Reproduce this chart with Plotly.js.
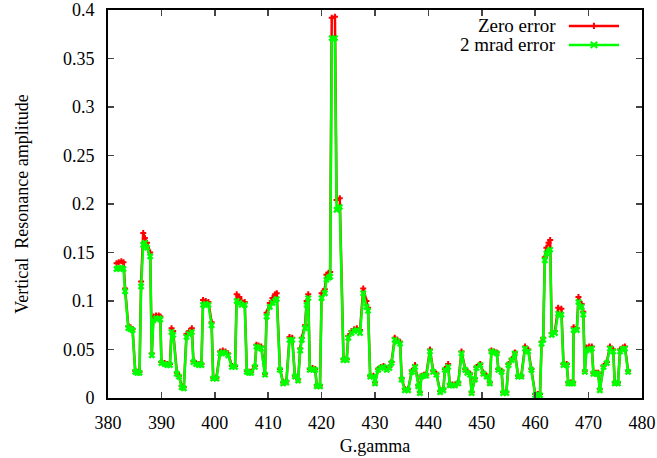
<!DOCTYPE html>
<html><head><meta charset="utf-8">
<script src="https://cdn.plot.ly/plotly-3.0.1.min.js"></script>
<style>html,body{margin:0;padding:0;background:#fff}#chart{width:657px;height:458px}</style>
</head><body><div id="chart"></div>
<script>
const ggamma = [381.6,382.0,382.5,382.9,383.2,383.8,384.2,384.6,385.1,385.5,
385.9,386.2,386.6,386.9,387.3,387.9,388.2,388.5,389.0,389.5,
389.8,390.0,390.6,391.1,391.6,391.9,392.2,392.9,393.3,393.8,
394.2,394.7,395.2,395.7,396.0,396.5,397.0,397.5,397.8,398.3,
398.8,399.4,399.7,400.3,401.0,401.5,402.0,402.5,403.2,403.8,
404.1,404.6,405.0,405.6,406.0,406.4,406.8,407.5,407.8,408.2,
408.7,409.4,409.7,410.3,410.8,411.3,411.6,412.2,412.8,413.4,
414.0,414.5,415.0,415.6,416.0,416.3,416.9,417.2,417.5,417.8,
418.3,418.8,419.1,419.7,420.0,420.6,420.9,421.3,421.6,421.9,
422.5,422.8,423.4,424.1,424.7,425.0,425.6,426.1,426.6,427.2,
427.8,428.4,428.7,429.1,429.7,430.0,430.6,431.1,431.6,432.2,
432.7,433.1,433.7,434.2,434.7,435.0,435.6,436.2,436.9,437.5,
438.1,438.4,438.7,439.2,439.6,440.3,440.9,441.5,442.2,442.8,
443.1,443.7,444.0,444.5,445.0,445.6,446.2,446.9,447.3,447.8,
448.1,448.7,449.0,449.7,450.3,450.9,451.5,451.8,452.3,452.8,
453.1,453.7,454.0,454.6,455.0,455.6,456.2,456.8,457.4,458.1,
458.7,459.3,460.0,460.5,460.9,461.2,461.5,461.8,462.1,462.5,
462.8,463.1,463.7,464.3,464.9,465.3,465.9,466.2,466.7,467.1,
467.2,467.8,468.1,468.7,469.0,469.3,469.6,470.1,470.6,470.9,
471.4,471.8,472.1,472.8,473.4,474.0,474.6,474.9,475.5,475.9,
476.4,476.8,477.4];

const zeroError = [.139,.140,.141,.140,.113,.074,.073,.071,.028,.027,
.027,.120,.170,.165,.160,.150,.046,.084,.085,.085,
.084,.037,.036,.035,.035,.072,.069,.026,.023,.012,
.011,.066,.069,.072,.038,.036,.035,.035,.101,.100,
.099,.078,.021,.021,.048,.049,.048,.046,.033,.033,
.107,.104,.100,.099,.028,.027,.027,.033,.055,.054,
.053,.025,.088,.098,.103,.107,.108,.030,.016,.017,
.063,.062,.023,.019,.051,.062,.075,.100,.107,.030,
.031,.030,.013,.013,.108,.112,.127,.129,.130,.392,
.393,.204,.206,.040,.040,.064,.069,.071,.072,.070,
.113,.100,.093,.023,.023,.016,.030,.032,.033,.030,
.032,.037,.062,.060,.058,.020,.009,.009,.028,.034,
.013,.006,.023,.024,.024,.050,.028,.025,.007,.009,
.030,.035,.014,.014,.014,.016,.048,.030,.027,.025,
.006,.020,.032,.035,.026,.023,.016,.049,.048,.047,
.030,.028,.006,.006,.035,.040,.047,.023,.023,.053,
.050,.030,.004,.004,.004,.058,.062,.145,.155,.160,
.163,.067,.069,.093,.092,.035,.035,.016,.016,.016,
.073,.072,.104,.097,.089,.028,.052,.053,.053,.026,
.026,.026,.009,.033,.037,.053,.050,.016,.016,.050,
.052,.053,.028];

const mrad2Error = [.133,.134,.134,.133,.110,.072,.071,.070,.027,.026,
.026,.115,.158,.160,.155,.146,.044,.080,.082,.082,
.081,.036,.035,.034,.034,.068,.065,.025,.022,.011,
.010,.063,.066,.068,.037,.035,.034,.034,.096,.097,
.096,.075,.020,.020,.046,.047,.046,.044,.032,.032,
.100,.098,.096,.096,.027,.026,.026,.032,.053,.052,
.051,.024,.084,.094,.098,.100,.102,.029,.015,.016,
.060,.060,.022,.018,.049,.060,.072,.096,.103,.029,
.030,.029,.012,.012,.103,.108,.122,.124,.125,.371,
.371,.194,.197,.039,.039,.062,.067,.069,.070,.067,
.108,.094,.090,.022,.022,.015,.029,.031,.032,.029,
.031,.036,.060,.058,.056,.019,.008,.008,.027,.032,
.012,.005,.022,.023,.023,.048,.027,.024,.006,.008,
.029,.032,.013,.013,.013,.015,.046,.029,.026,.024,
.005,.019,.031,.034,.025,.022,.015,.048,.047,.046,
.029,.027,.005,.005,.034,.039,.046,.022,.022,.051,
.048,.029,.003,.003,.003,.056,.060,.142,.149,.151,
.153,.065,.067,.087,.086,.034,.034,.015,.015,.015,
.070,.070,.099,.094,.086,.027,.049,.050,.051,.025,
.025,.025,.008,.032,.036,.051,.048,.015,.015,.048,
.050,.051,.027];

const seriesNames = ['Zero error', '2 mrad error'];
const seriesColors = ['#ff0000', '#00ff00'];

const FONT = 'Liberation Serif, Times New Roman, serif';

const traces = [
  {x: ggamma, y: zeroError, name: seriesNames[0], type: 'scatter', mode: 'lines+markers',
   line: {color: seriesColors[0], width: 2.5}, marker: {symbol: 'cross', size: 5, color: seriesColors[0]}},
  {x: ggamma, y: mrad2Error, name: seriesNames[1], type: 'scatter', mode: 'lines+markers',
   line: {color: seriesColors[1], width: 2.5}, marker: {symbol: 'x', size: 6, color: seriesColors[1]}}
];

// legend drawn gnuplot-style (text left, sample right)
const legY = [0.959, 0.910];
const lx0 = 0.863, lx1 = 0.957, lmx = 0.910;
const shapes = [], annotations = [];
for (let i = 0; i < 2; i++) {
  annotations.push({xref: 'paper', yref: 'paper', x: 0.843, y: legY[i], xanchor: 'right', yanchor: 'middle',
    text: seriesNames[i], showarrow: false, font: {family: FONT, size: 19, color: '#000'}});
  shapes.push({type: 'line', xref: 'paper', yref: 'paper', x0: lx0, x1: lx1, y0: legY[i], y1: legY[i],
    line: {color: seriesColors[i], width: 2.5}});
  const dx = 0.006, dy = 0.008;
  const path = i === 0
    ? `M${lmx-dx},${legY[i]} L${lmx+dx},${legY[i]} M${lmx},${legY[i]-dy} L${lmx},${legY[i]+dy}`
    : `M${lmx-dx},${legY[i]-dy} L${lmx+dx},${legY[i]+dy} M${lmx-dx},${legY[i]+dy} L${lmx+dx},${legY[i]-dy}`;
  shapes.push({type: 'path', xref: 'paper', yref: 'paper', path: path, line: {color: seriesColors[i], width: 2}});
}

const layout = {
  width: 657, height: 458,
  margin: {l: 108, r: 15, t: 10, b: 60},
  paper_bgcolor: '#fff', plot_bgcolor: '#fff',
  showlegend: false,
  font: {family: FONT, size: 18, color: '#000'},
  xaxis: {range: [380, 480], dtick: 10, tick0: 380, ticks: 'inside', ticklen: 6, tickwidth: 1.5,
    showline: true, linewidth: 2, linecolor: '#000', mirror: 'ticks', showgrid: false, zeroline: false,
    ticklabelstandoff: 7,
    title: {text: 'G.gamma', font: {family: FONT, size: 18}, standoff: 8}},
  yaxis: {range: [0, 0.4], dtick: 0.05, tick0: 0, ticks: 'inside', ticklen: 6, tickwidth: 1.5,
    showline: true, linewidth: 2, linecolor: '#000', mirror: 'ticks', showgrid: false, zeroline: false,
    ticklabelstandoff: 8,
    title: {text: 'Vertical\u00a0 Resonance amplitude', font: {family: FONT, size: 18}, standoff: 30}},
  shapes: shapes,
  annotations: annotations
};

Plotly.newPlot('chart', traces, layout, {displayModeBar: false, staticPlot: true});
</script>
</body></html>
